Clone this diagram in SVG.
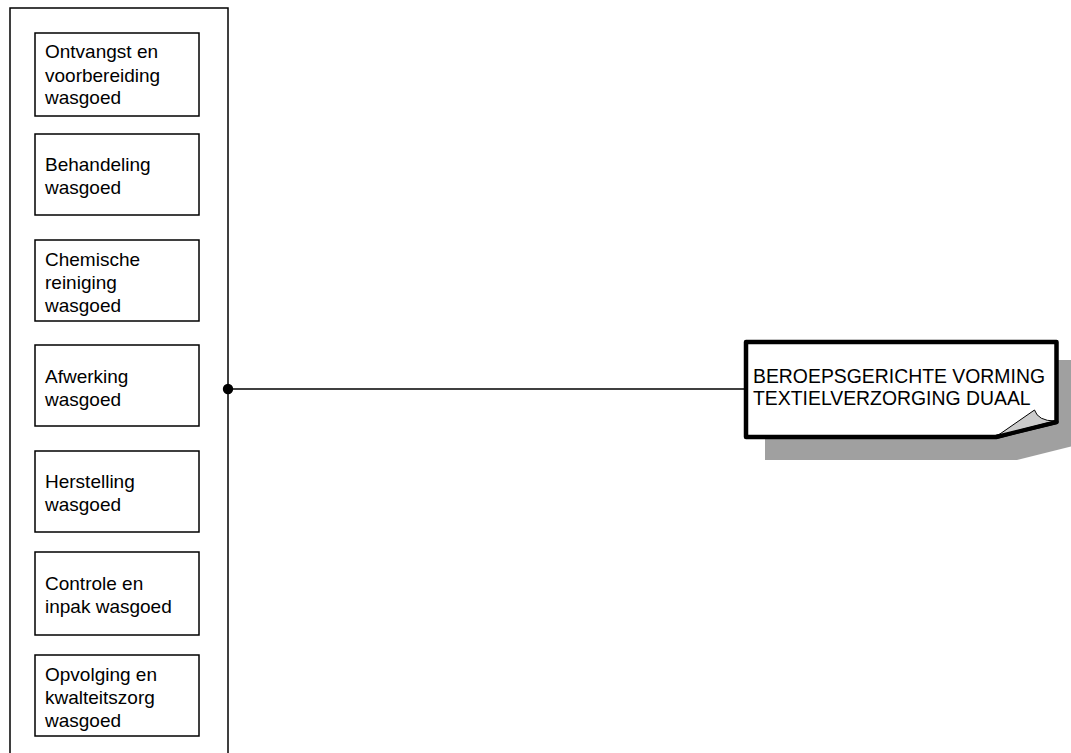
<svg xmlns="http://www.w3.org/2000/svg" width="1071" height="753" viewBox="0 0 1071 753">
<style>
.box{fill:#fff;stroke:#000;stroke-width:1.5}
.t{font-family:"Liberation Sans",Arial,sans-serif;font-size:19px;fill:#000}
.c{font-family:"Liberation Sans",Arial,sans-serif;font-size:19.4px;fill:#000}
</style>
<rect width="1071" height="753" fill="#fff"/>
<g id="container">
<rect x="10" y="8" width="218" height="760" fill="#fff" stroke="#000" stroke-width="1.5"/>
</g>
<g id="n1"><rect class="box" x="35" y="33" width="164" height="83"/>
<text class="t" x="45" y="58">Ontvangst en</text><text class="t" x="45" y="81.5">voorbereiding</text><text class="t" x="45" y="104">wasgoed</text></g>
<g id="n2"><rect class="box" x="35" y="134" width="164" height="81"/>
<text class="t" x="45" y="171">Behandeling</text><text class="t" x="45" y="193.5">wasgoed</text></g>
<g id="n3"><rect class="box" x="35" y="240" width="164" height="81"/>
<text class="t" x="45" y="265.5">Chemische</text><text class="t" x="45" y="288.5">reiniging</text><text class="t" x="45" y="311.5">wasgoed</text></g>
<g id="n4"><rect class="box" x="35" y="345" width="164" height="81"/>
<text class="t" x="45" y="383">Afwerking</text><text class="t" x="45" y="405.5">wasgoed</text></g>
<g id="n5"><rect class="box" x="35" y="451" width="164" height="81"/>
<text class="t" x="45" y="488">Herstelling</text><text class="t" x="45" y="511">wasgoed</text></g>
<g id="n6"><rect class="box" x="35" y="552" width="164" height="83"/>
<text class="t" x="45" y="590">Controle en</text><text class="t" x="45" y="612.5">inpak wasgoed</text></g>
<g id="n7"><rect class="box" x="35" y="655" width="164" height="81"/>
<text class="t" x="45" y="681">Opvolging en</text><text class="t" x="45" y="704">kwalteitszorg</text><text class="t" x="45" y="726.5">wasgoed</text></g>
<g id="connectors">
<line x1="228" y1="389" x2="746" y2="389" stroke="#000" stroke-width="1.5"/>
<circle cx="228" cy="389" r="5.2" fill="#000"/>
</g>
<g id="callout">
<path d="M765,360 L1085,360 L1085,443 L1017,460 L765,460 Z" fill="#a0a0a0"/>
<path d="M746,342 L1056.5,342 L1056.5,422 L996,437 L746,437 Z" fill="#fff" stroke="#000" stroke-width="4.5" stroke-linejoin="round"/>
<path d="M997,436 L1034.5,410 Q1038,421 1055,421 Z" fill="#cccccc" stroke="#000" stroke-width="1"/>
<line x1="1056.5" y1="422" x2="996" y2="437" stroke="#000" stroke-width="4" stroke-linecap="round"/>
<text class="c" x="753" y="383">BEROEPSGERICHTE VORMING</text>
<text class="c" x="753" y="405">TEXTIELVERZORGING DUAAL</text>
</g>
</svg>
